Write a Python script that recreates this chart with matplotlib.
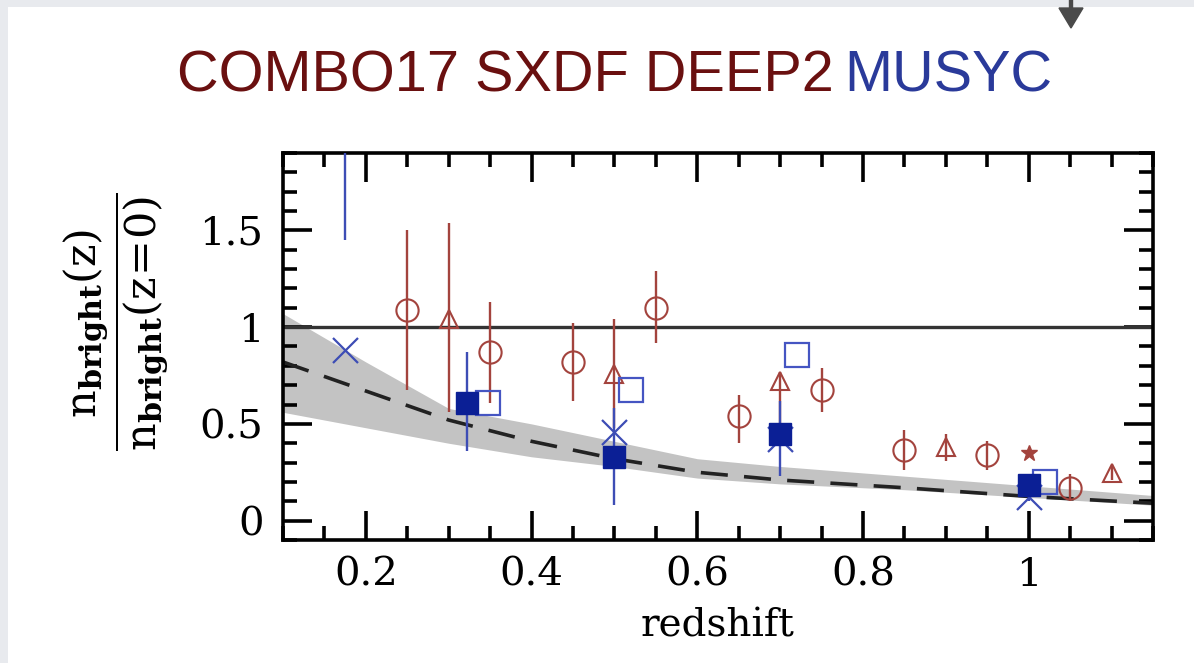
import matplotlib.pyplot as plt
from matplotlib.patches import Rectangle, FancyArrow
from matplotlib.ticker import FixedLocator, MultipleLocator

# COMBO17 / SXDF / DEEP2 (red) points
circ_z = [0.25, 0.35, 0.45, 0.55, 0.65, 0.75, 0.85, 0.95, 1.05]
circ_y = [1.09, 0.87, 0.82, 1.10, 0.54, 0.675, 0.365, 0.34, 0.17]
circ_lo = [0.675, 0.61, 0.62, 0.92, 0.40, 0.56, 0.26, 0.26, 0.10]
circ_hi = [1.50, 1.13, 1.02, 1.29, 0.65, 0.79, 0.47, 0.41, 0.24]

tri_z = [0.30, 0.50, 0.70, 0.90, 1.10]
tri_y = [1.04, 0.76, 0.72, 0.38, 0.245]
tri_lo = [0.56, 0.48, 0.47, 0.31, 0.21]
tri_hi = [1.54, 1.04, 0.77, 0.45, 0.28]

star_z = [1.0]
star_y = [0.35]

# MUSYC (blue) points
fsq_z = [0.322, 0.50, 0.70, 1.00]
fsq_y = [0.61, 0.33, 0.45, 0.185]
fsq_lo = [0.36, 0.08, 0.23, 0.10]
fsq_hi = [0.87, 0.58, 0.62, 0.22]

osq_z = [0.348, 0.52, 0.72, 1.02]
osq_y = [0.61, 0.675, 0.855, 0.20]

x_z = [0.175, 0.50, 0.70, 1.00]
x_y = [0.88, 0.46, 0.42, 0.12]

off_z = [0.175]
off_lo = [1.45]
off_hi = [2.2]

# model curve and band
mod_z = [0.1, 0.2, 0.3, 0.4, 0.5, 0.6, 0.7, 0.85, 1.0, 1.15]
mod_y = [0.82, 0.67, 0.52, 0.41, 0.32, 0.25, 0.21, 0.17, 0.125, 0.09]
band_hi = [1.07, 0.82, 0.58, 0.50, 0.41, 0.32, 0.28, 0.23, 0.18, 0.13]
band_lo = [0.56, 0.48, 0.40, 0.33, 0.28, 0.22, 0.19, 0.16, 0.12, 0.08]

xticks = [0.2, 0.4, 0.6, 0.8, 1.0]
xlabels = ['0.2', '0.4', '0.6', '0.8', '1']
yticks = [0, 0.5, 1.0, 1.5]
ylabels = ['0', '0.5', '1', '1.5']

red = '#a3433d'
blue_dark = '#0b1f95'
blue = '#3d4db5'

plt.rcParams['mathtext.fontset'] = 'dejavuserif'

fig = plt.figure(figsize=(11.94, 6.63), dpi=100)
fig.patch.set_facecolor('#e8eaee')
fig.patches.append(Rectangle((8 / 1194, 0), 1, 1 - 7 / 663, transform=fig.transFigure,
                             facecolor='white', edgecolor='none', zorder=-5))
fig.patches.append(FancyArrow(1071 / 1194, 1.0, 0, -28 / 663, width=3 / 1194,
                              head_width=24 / 1194, head_length=20 / 663,
                              length_includes_head=True, transform=fig.transFigure,
                              color='#4a4a4a', zorder=2))

fig.text(0.6985, 0.884, 'COMBO17 SXDF DEEP2', color='#6a1010', fontsize=41.5,
         family='Liberation Sans', ha='right', va='center')
fig.text(0.707, 0.884, 'MUSYC', color='#2a3a9a', fontsize=41.5,
         family='Liberation Sans', ha='left', va='center')

ax = fig.add_axes([283 / 1194, 1 - 540 / 663, 870 / 1194, 387 / 663])
ax.set_zorder(3)
ax.set_xlim(0.1, 1.15)
ax.set_ylim(-0.1, 1.9)

ax.fill_between(mod_z, band_lo, band_hi, color='#c3c3c3', linewidth=0, zorder=1)
ax.plot(mod_z, mod_y, color='#222222', lw=2.6, dashes=(7.5, 4.5), zorder=2)
ax.axhline(1.0, color='#333333', lw=2.4, zorder=2)

ax.vlines(circ_z, circ_lo, circ_hi, color=red, lw=1.7, zorder=3)
ax.vlines(tri_z, tri_lo, tri_hi, color=red, lw=1.7, zorder=3)
ax.plot(circ_z, circ_y, 'o', ms=16, mfc='none', mec=red, mew=1.5, zorder=4)
ax.plot(tri_z, tri_y, '^', ms=13, mfc='none', mec=red, mew=1.5, zorder=4)
ax.plot(star_z, star_y, '*', ms=12, color=red, zorder=4)

ax.vlines(fsq_z, fsq_lo, fsq_hi, color=blue, lw=1.7, zorder=3)
ax.vlines(off_z, off_lo, off_hi, color=blue, lw=1.7, zorder=3)
ax.plot(x_z, x_y, 'x', ms=18, mec=blue, mew=1.6, zorder=4)
ax.plot(osq_z, osq_y, 's', ms=17, mfc='none', mec='#4555c2', mew=1.6, zorder=4)
ax.plot(fsq_z, fsq_y, 's', ms=16, color=blue_dark, zorder=5)

ax.xaxis.set_major_locator(FixedLocator(xticks))
ax.set_xticklabels(xlabels)
ax.xaxis.set_minor_locator(MultipleLocator(0.05))
ax.yaxis.set_major_locator(FixedLocator(yticks))
ax.set_yticklabels(ylabels)
ax.yaxis.set_minor_locator(MultipleLocator(0.1))

for s in ax.spines.values():
    s.set_linewidth(2.6)
ax.tick_params(which='both', direction='in', top=True, right=True, width=2.6,
               labelsize=29, labelfontfamily='DejaVu Serif')
ax.tick_params(which='major', length=21)
ax.tick_params(which='minor', length=10)
ax.tick_params(axis='x', pad=12)
ax.tick_params(axis='y', pad=14)

ax.set_xlabel('redshift', fontsize=28, family='DejaVu Serif')
ax.xaxis.set_label_coords(0.5, -0.175)
ax.set_ylabel(r'$\dfrac{\mathrm{n}_{\mathbf{bright}}(\mathrm{z})}'
              r'{\mathrm{n}_{\mathbf{bright}}(\mathrm{z}\!=\!0)}$', fontsize=31)
ax.yaxis.set_label_coords(-0.13, 0.565)

fig.savefig('out.png', dpi=100, facecolor=fig.get_facecolor())
